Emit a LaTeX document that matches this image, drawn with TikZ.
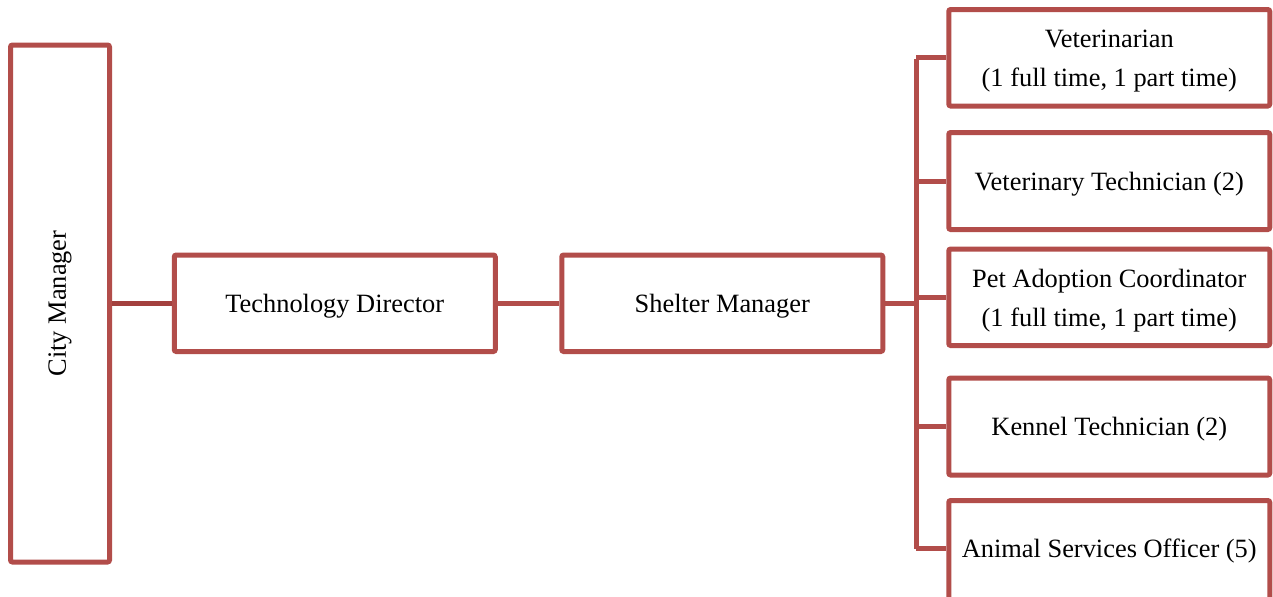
\documentclass[tikz,border=0pt]{standalone}
\usepackage{fontspec}
\setmainfont{Liberation Serif}
\definecolor{boxred}{HTML}{B24D4A}
\definecolor{linkred}{HTML}{A3403E}
\begin{document}
\begin{tikzpicture}[x=0.5pt,y=-0.5pt,
  orgbox/.style={draw=boxred, line width=2.5pt, rounded corners=1pt, fill=white,
    inner sep=0pt, minimum width=160.5pt},
  lbl/.style={inner sep=0pt, align=center, font=\fontsize{13.2pt}{19.5pt}\selectfont},
  txt/.style={label={[lbl, yshift=-1.5pt]center:{#1}}},
  link/.style={draw=boxred, line width=2.5pt}]
\useasboundingbox (0,0) rectangle (1273,596);
% left column
\node[orgbox, minimum width=49.5pt, minimum height=258.5pt] (cm) at (60,303.5) {};
\node[lbl, rotate=90] (cmt) at (cm.center) {City Manager};
\node[orgbox, minimum height=48.25pt, txt={Technology Director}] (td) at (334.75,303.25) {};
\node[orgbox, minimum height=48.25pt, txt={Shelter Manager}] (sm) at (722.25,303.25) {};
% right column
\node[orgbox, minimum height=48.25pt, txt={Veterinarian\\(1 full time, 1 part time)}] (vet) at (1109.25,57.75) {};
\node[orgbox, minimum height=48.5pt, txt={Veterinary Technician (2)}] (vt) at (1109.25,181) {};
\node[orgbox, minimum height=48.25pt, txt={Pet Adoption Coordinator\\(1 full time, 1 part time)}] (pa) at (1109.25,297.25) {};
\node[orgbox, minimum height=48.5pt, txt={Kennel Technician (2)}] (kt) at (1109.25,426.5) {};
\node[orgbox, anchor=north, minimum height=55pt,
  label={[lbl, yshift=2pt]center:Animal Services Officer (5)}] (aso) at (1109.25,498) {};
% bus
\coordinate (bustop) at (916,58.5);
\coordinate (busbot) at (916,548.5);
\draw[link] (bustop) -- (busbot);
% connectors
\draw[draw=linkred, line width=2.5pt] (cm.east |- 0,303.5) -- (td.west |- 0,303.5);
\draw[link] (td.east |- 0,303.5) -- (sm.west |- 0,303.5);
\draw[link] (sm.east |- 0,303) -- (bustop |- 0,303);
\foreach \n in {vet,vt,pa,kt} {
  \draw[link] (bustop |- \n.west) -- (\n.west);
}
\draw[link] (busbot) -- (busbot -| aso.west);
\end{tikzpicture}
\end{document}
